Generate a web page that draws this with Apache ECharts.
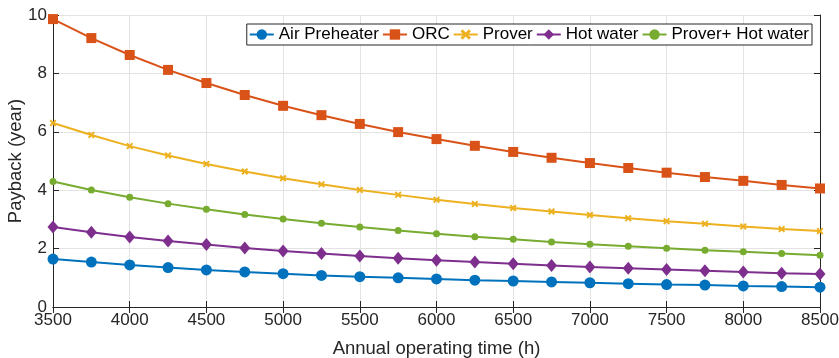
<!DOCTYPE html>
<html>
<head>
<meta charset="utf-8">
<script src="https://cdn.jsdelivr.net/npm/echarts@6/dist/echarts.min.js"></script>
<style>
  html, body { margin: 0; padding: 0; background: #fff; }
  #chart { width: 839px; height: 358px; }
</style>
</head>
<body>
<div id="chart"></div>
<script>
// Annual operating hours (x) and payback periods in years for each recovery option
const hours = [3500, 3750, 4000, 4250, 4500, 4750, 5000, 5250, 5500, 5750, 6000,
               6250, 6500, 6750, 7000, 7250, 7500, 7750, 8000, 8250, 8500];
const airPreheater = [1.64, 1.54, 1.44, 1.35, 1.27, 1.20, 1.14, 1.08, 1.04, 1.00, 0.96,
                      0.92, 0.89, 0.86, 0.83, 0.80, 0.77, 0.75, 0.72, 0.70, 0.68];
const orc = [9.86, 9.21, 8.63, 8.12, 7.67, 7.26, 6.89, 6.57, 6.27, 5.99, 5.75,
             5.52, 5.31, 5.11, 4.93, 4.76, 4.60, 4.45, 4.32, 4.18, 4.06];
const prover = [6.30, 5.89, 5.51, 5.19, 4.90, 4.64, 4.41, 4.20, 4.01, 3.84, 3.67,
                3.53, 3.39, 3.27, 3.15, 3.04, 2.94, 2.85, 2.76, 2.67, 2.60];
const hotWater = [2.74, 2.56, 2.40, 2.26, 2.14, 2.02, 1.92, 1.83, 1.75, 1.67, 1.60,
                  1.54, 1.48, 1.42, 1.37, 1.33, 1.28, 1.24, 1.20, 1.16, 1.13];
const proverHotWater = [4.30, 4.01, 3.76, 3.54, 3.35, 3.17, 3.01, 2.87, 2.74, 2.62, 2.51,
                        2.41, 2.32, 2.23, 2.15, 2.08, 2.01, 1.94, 1.89, 1.83, 1.77];
const seriesNames = ['Air Preheater', 'ORC', 'Prover', 'Hot water', 'Prover+ Hot water'];
const yTicks = [0, 2, 4, 6, 8, 10];

const FONT = '"Liberation Sans", Arial, sans-serif';
const AXIS_COLOR = '#262626';

// asterisk-like cross used for the Prover markers
const crossPath = 'path://M2,0 L5,3 L8,0 L10,2 L7,5 L10,8 L8,10 L5,7 L2,10 L0,8 L3,5 L0,2 Z';

function pairs(values) {
  return hours.map((h, i) => [h, values[i]]);
}

const chart = echarts.init(document.getElementById('chart'), null, { renderer: 'canvas' });

const specs = [
  { name: seriesNames[0], data: airPreheater, color: '#0072BD', symbol: 'circle', size: 11 },
  { name: seriesNames[1], data: orc, color: '#D95319', symbol: 'rect', size: 10 },
  { name: seriesNames[2], data: prover, color: '#EDB120', symbol: crossPath, size: 7 },
  { name: seriesNames[3], data: hotWater, color: '#7E2F8E', symbol: 'diamond', size: [11, 13] },
  { name: seriesNames[4], data: proverHotWater, color: '#77AC30', symbol: 'circle', size: 7 }
];

const option = {
  animation: false,
  textStyle: { fontFamily: FONT },
  grid: { left: 53, right: 19, top: 15, bottom: 51, containLabel: false, outerBoundsMode: 'none' },
  legend: {
    data: seriesNames,
    right: 27,
    top: 24,
    orient: 'horizontal',
    backgroundColor: '#fff',
    borderColor: '#262626',
    borderWidth: 1,
    padding: [2, 3, 2, 2],
    itemGap: 3,
    itemWidth: 24,
    itemHeight: 13,
    textStyle: { fontSize: 17, color: '#000', fontFamily: FONT }
  },
  xAxis: [
    {
      type: 'value',
      min: 3500, max: 8500, interval: 500,
      name: 'Annual operating time (h)',
      nameLocation: 'middle',
      nameGap: 32,
      nameTextStyle: { fontSize: 18.5, color: AXIS_COLOR, fontFamily: FONT },
      axisLine: { lineStyle: { color: AXIS_COLOR, width: 1 } },
      axisTick: { inside: true, length: 6, lineStyle: { color: AXIS_COLOR } },
      axisLabel: { fontSize: 17, color: AXIS_COLOR, margin: 5, fontFamily: FONT,
                   formatter: v => String(v) },
      splitLine: { show: true, lineStyle: { color: '#e3e3e3', width: 1 } }
    },
    {
      type: 'value', position: 'top',
      min: 3500, max: 8500, interval: 500,
      axisLine: { lineStyle: { color: AXIS_COLOR, width: 1 } },
      axisTick: { inside: true, length: 6, lineStyle: { color: AXIS_COLOR } },
      axisLabel: { show: false },
      splitLine: { show: false }
    }
  ],
  yAxis: [
    {
      type: 'value',
      min: yTicks[0], max: yTicks[yTicks.length - 1], interval: 2,
      name: 'Payback (year)',
      nameLocation: 'middle',
      nameGap: 28,
      nameMoveOverlap: false,
      nameTextStyle: { fontSize: 18.5, color: AXIS_COLOR, fontFamily: FONT },
      axisLine: { show: true, lineStyle: { color: AXIS_COLOR, width: 1 } },
      axisTick: { show: true, inside: true, length: 6, lineStyle: { color: AXIS_COLOR } },
      axisLabel: { fontSize: 17, color: AXIS_COLOR, margin: 6, fontFamily: FONT },
      splitLine: { show: true, lineStyle: { color: '#e3e3e3', width: 1 } }
    },
    {
      type: 'value', position: 'right',
      min: yTicks[0], max: yTicks[yTicks.length - 1], interval: 2,
      axisLine: { show: true, lineStyle: { color: AXIS_COLOR, width: 1 } },
      axisTick: { show: true, inside: true, length: 6, lineStyle: { color: AXIS_COLOR } },
      axisLabel: { show: false },
      splitLine: { show: false }
    }
  ],
  series: specs.map(s => ({
    name: s.name,
    type: 'line',
    data: pairs(s.data),
    symbol: s.symbol,
    symbolSize: s.size,
    showAllSymbol: true,
    smooth: false,
    lineStyle: { color: s.color, width: 2 },
    itemStyle: { color: s.color, borderWidth: 0 },
    emphasis: { disabled: true },
    clip: false
  }))
};

chart.setOption(option);
</script>
</body>
</html>
